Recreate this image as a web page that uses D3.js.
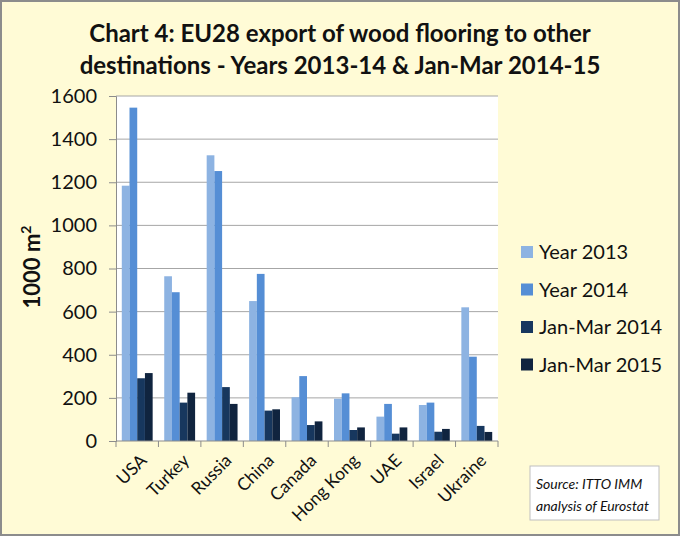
<!DOCTYPE html>
<html>
<head>
<meta charset="utf-8">
<script src="https://cdn.jsdelivr.net/npm/d3@7"></script>
<style>
  body { margin: 0; background: #fff; }
  svg { display: block; font-family: Lato, "Open Sans", sans-serif; }
</style>
</head>
<body>
<div id="chart"></div>
<script>
var countries = ["USA", "Turkey", "Russia", "China", "Canada", "Hong Kong", "UAE", "Israel", "Ukraine"]
var seriesNames = ["Year 2013", "Year 2014", "Jan-Mar 2014", "Jan-Mar 2015"]
var year2013 = [1184, 764, 1325, 649, 203, 196, 113, 167, 620]
var year2014 = [1546, 690, 1252, 775, 301, 221, 172, 178, 391]
var janMar2014 = [291, 178, 250, 141, 74, 51, 34, 43, 70]
var janMar2015 = [315, 224, 172, 147, 91, 63, 63, 56, 42]
var yTicks = [0, 200, 400, 600, 800, 1000, 1200, 1400, 1600]
var colors = ["#8db3e2", "#558ed5", "#17375e", "#10243f"]

var allSeries = [year2013, year2014, janMar2014, janMar2015]

var outerWidth = 680, outerHeight = 536
var plot = { left: 116, right: 498, top: 96, bottom: 441 }

const svg = d3.select("#chart")
  .append("svg")
  .attr("width", outerWidth)
  .attr("height", outerHeight)

// background and border
svg.append("rect")
  .attr("x", 1).attr("y", 1)
  .attr("width", outerWidth - 2).attr("height", outerHeight - 2)
  .attr("fill", "#fffbd6")
  .attr("stroke", "#8c8c8c")
  .attr("stroke-width", 2)

// title
svg.append("text")
  .attr("x", 340).attr("y", 42)
  .attr("text-anchor", "middle")
  .style("font-size", "24px").style("font-weight", "bold")
  .attr("fill", "#111")
  .text("Chart 4: EU28 export of wood flooring to other")
svg.append("text")
  .attr("x", 340).attr("y", 74)
  .attr("text-anchor", "middle")
  .style("font-size", "24px").style("font-weight", "bold")
  .attr("fill", "#111")
  .text("destinations - Years 2013-14 & Jan-Mar 2014-15")

const x = d3.scaleBand()
  .domain(countries)
  .range([plot.left, plot.right])

const inner = d3.scaleBand()
  .domain(seriesNames)
  .range([0, x.bandwidth()])
  .paddingOuter(0.75)

const y = d3.scaleLinear()
  .domain([0, 1600])
  .range([plot.bottom, plot.top])

// plot area
svg.append("rect")
  .attr("x", plot.left).attr("y", plot.top)
  .attr("width", plot.right - plot.left).attr("height", plot.bottom - plot.top)
  .attr("fill", "#fff")

// gridlines
svg.append("g")
  .selectAll("line")
  .data(yTicks.slice(1))
  .join("line")
  .attr("x1", plot.left).attr("x2", plot.right)
  .attr("y1", d => y(d)).attr("y2", d => y(d))
  .attr("stroke", "#a6a6a6")
  .attr("stroke-width", 1)

// y axis
const yAxis = svg.append("g")
  .attr("transform", `translate(${plot.left},0)`)
  .call(d3.axisLeft(y).tickValues(yTicks).tickFormat(d3.format("d")).tickSize(7).tickPadding(12))
yAxis.select(".domain").attr("stroke", "#8c8c8c")
yAxis.selectAll(".tick line").attr("stroke", "#8c8c8c")
yAxis.selectAll(".tick text")
  .style("font-size", "20px")
  .style("font-family", "Lato, 'Open Sans', sans-serif")
  .attr("fill", "#111")

// bars
const groups = svg.append("g")
  .selectAll("g")
  .data(countries)
  .join("g")
  .attr("transform", d => `translate(${x(d)},0)`)

groups.selectAll("rect")
  .data((c, i) => allSeries.map((s, k) => ({ name: seriesNames[k], value: s[i], k: k })))
  .join("rect")
  .attr("x", d => inner(d.name))
  .attr("width", inner.bandwidth())
  .attr("y", d => y(d.value))
  .attr("height", d => y(0) - y(d.value))
  .attr("fill", d => colors[d.k])

// x axis
const xAxisG = svg.append("g")
  .attr("transform", `translate(0,${plot.bottom})`)
xAxisG.append("line")
  .attr("x1", plot.left).attr("x2", plot.right)
  .attr("stroke", "#8c8c8c")
xAxisG.selectAll(".tk")
  .data(countries.concat(["end"]))
  .join("line")
  .attr("x1", (d, i) => plot.left + i * x.step())
  .attr("x2", (d, i) => plot.left + i * x.step())
  .attr("y1", 0).attr("y2", 6)
  .attr("stroke", "#8c8c8c")
xAxisG.selectAll("text")
  .data(countries)
  .join("text")
  .attr("transform", d => `translate(${x(d) + x.bandwidth() / 2 + 2},${12}) rotate(-45)`)
  .attr("text-anchor", "end")
  .attr("dy", "0.7em")
  .style("font-size", "17.5px")
  .attr("fill", "#111")
  .text(d => d)

// y axis title
const yTitle = svg.append("text")
  .attr("transform", "translate(40,267) rotate(-90)")
  .attr("text-anchor", "middle")
  .style("font-size", "22px").style("font-weight", "bold")
  .attr("fill", "#111")
yTitle.append("tspan").text("1000 m")
yTitle.append("tspan").attr("dy", -9).style("font-size", "14px").text("2")

// legend
const legend = svg.append("g")
  .selectAll("g")
  .data(seriesNames)
  .join("g")
  .attr("transform", (d, i) => `translate(521,${252 + i * 37.5})`)
legend.append("rect")
  .attr("x", 0).attr("y", -6)
  .attr("width", 12).attr("height", 12)
  .attr("fill", (d, i) => colors[i])
legend.append("text")
  .attr("x", 18).attr("y", 0)
  .attr("dy", "0.35em")
  .style("font-size", "20px")
  .attr("fill", "#111")
  .text(d => d)

// source box
svg.append("rect")
  .attr("x", 530).attr("y", 466)
  .attr("width", 129).attr("height", 54)
  .attr("fill", "#fff")
  .attr("stroke", "#bfbfbf")
svg.append("text")
  .attr("x", 536).attr("y", 489)
  .style("font-size", "14px").style("font-style", "italic")
  .attr("fill", "#111")
  .text("Source: ITTO IMM")
svg.append("text")
  .attr("x", 536).attr("y", 511)
  .style("font-size", "14px").style("font-style", "italic")
  .attr("fill", "#111")
  .text("analysis of Eurostat")
</script>
</body>
</html>
